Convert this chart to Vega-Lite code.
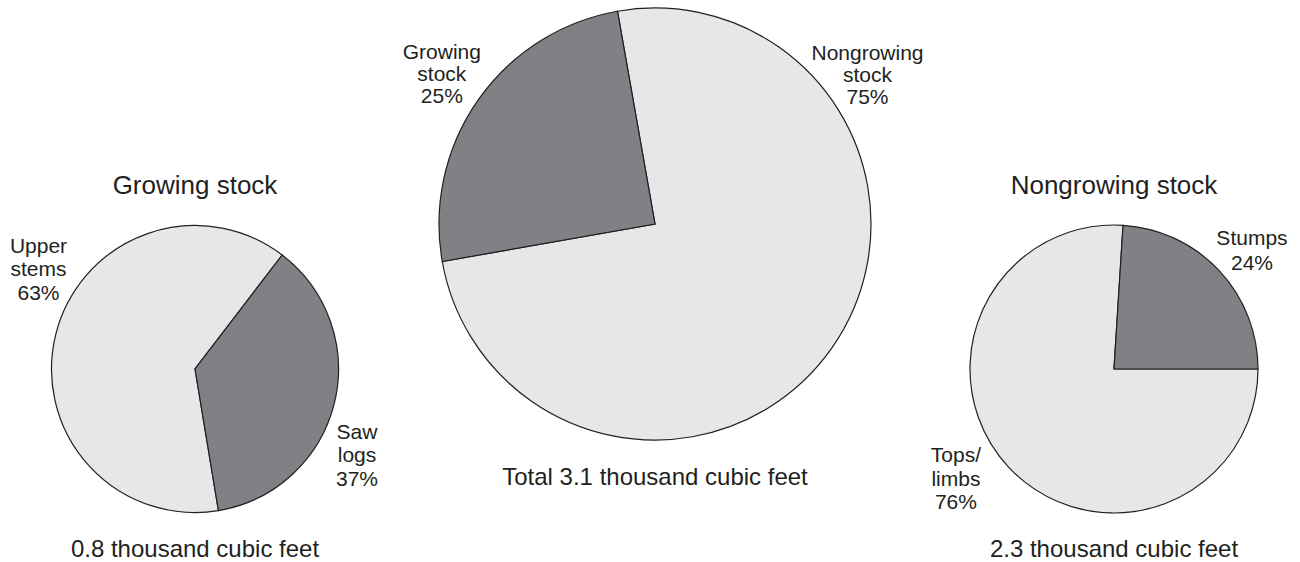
{
  "$schema": "https://vega.github.io/schema/vega-lite/v6.json",
  "padding": 0,
  "spacing": 0,
  "background": "white",
  "config": {"view": {"stroke": null}, "text": {"font": "Liberation Sans", "color": "#231f20"}},
  "resolve": {"scale": {"color": "independent", "theta": "independent"}},
  "datasets": {
    "growing": [
      {"part": "Upper stems", "k": 1, "pct": 63, "label": "Upper\nstems\n63%"},
      {"part": "Saw logs", "k": 2, "pct": 37, "label": "Saw\nlogs\n37%"}
    ],
    "total": [
      {"part": "Nongrowing stock", "k": 1, "pct": 75, "label": "Nongrowing\nstock\n75%"},
      {"part": "Growing stock", "k": 2, "pct": 25, "label": "Growing\nstock\n25%"}
    ],
    "nongrowing": [
      {"part": "Tops/limbs", "k": 1, "pct": 76, "label": "Tops/\nlimbs\n76%"},
      {"part": "Stumps", "k": 2, "pct": 24, "label": "Stumps\n24%"}
    ]
  },
  "hconcat": [
    {
      "width": 390,
      "height": 562,
      "data": {"name": "growing"},
      "layer": [
        {
          "mark": {"type": "arc", "outerRadius": 143.5, "yOffset": 88, "stroke": "#231f20", "strokeWidth": 1.2},
          "encoding": {
            "theta": {"field": "pct", "type": "quantitative", "stack": true, "scale": {"range": [2.9775, 9.2607]}},
            "order": {"field": "k", "type": "quantitative"},
            "color": {"field": "part", "type": "nominal", "scale": {"domain": ["Upper stems", "Saw logs"], "range": ["#e6e7e8", "#808184"]}, "legend": null}
          }
        },
        {
          "mark": {"type": "text", "radius": 198.6, "thetaOffset": 0.419, "yOffset": 88, "fontSize": 21, "lineBreak": "\n", "lineHeight": 23.5, "align": "center", "baseline": "middle"},
          "encoding": {
            "theta": {"field": "pct", "type": "quantitative", "stack": true, "scale": {"range": [2.9775, 9.2607]}},
            "order": {"field": "k", "type": "quantitative"},
            "text": {"condition": {"test": "datum.part === 'Upper stems'", "field": "label"}, "value": ""}
          }
        },
        {
          "mark": {"type": "text", "radius": 174.1, "thetaOffset": 0.131, "yOffset": 88, "fontSize": 21, "lineBreak": "\n", "lineHeight": 23.5, "align": "center", "baseline": "middle"},
          "encoding": {
            "theta": {"field": "pct", "type": "quantitative", "stack": true, "scale": {"range": [2.9775, 9.2607]}},
            "order": {"field": "k", "type": "quantitative"},
            "text": {"condition": {"test": "datum.part === 'Saw logs'", "field": "label"}, "value": ""}
          }
        },
        {
          "data": {"values": [{"t": "Growing stock"}]},
          "mark": {"type": "text", "yOffset": -87, "fontSize": 26, "align": "center", "baseline": "alphabetic"},
          "encoding": {"text": {"field": "t"}}
        },
        {
          "data": {"values": [{"t": "0.8 thousand cubic feet"}]},
          "mark": {"type": "text", "yOffset": 276, "fontSize": 24, "align": "center", "baseline": "alphabetic"},
          "encoding": {"text": {"field": "t"}}
        }
      ]
    },
    {
      "width": 530,
      "height": 562,
      "data": {"name": "total"},
      "layer": [
        {
          "mark": {"type": "arc", "outerRadius": 216, "yOffset": -57, "stroke": "#231f20", "strokeWidth": 1.2},
          "encoding": {
            "theta": {"field": "pct", "type": "quantitative", "stack": true, "scale": {"range": [-0.17453, 6.10865]}},
            "order": {"field": "k", "type": "quantitative"},
            "color": {"field": "part", "type": "nominal", "scale": {"domain": ["Nongrowing stock", "Growing stock"], "range": ["#e6e7e8", "#808184"]}, "legend": null}
          }
        },
        {
          "mark": {"type": "text", "radius": 273.2, "thetaOffset": 0.065, "yOffset": -57, "fontSize": 21, "lineBreak": "\n", "lineHeight": 22, "align": "center", "baseline": "middle"},
          "encoding": {
            "theta": {"field": "pct", "type": "quantitative", "stack": true, "scale": {"range": [-0.17453, 6.10865]}},
            "order": {"field": "k", "type": "quantitative"},
            "text": {"condition": {"test": "datum.part === 'Growing stock'", "field": "label"}, "value": ""}
          }
        },
        {
          "mark": {"type": "text", "radius": 272.3, "thetaOffset": -1.2863, "yOffset": -57, "fontSize": 21, "lineBreak": "\n", "lineHeight": 22, "align": "center", "baseline": "middle"},
          "encoding": {
            "theta": {"field": "pct", "type": "quantitative", "stack": true, "scale": {"range": [-0.17453, 6.10865]}},
            "order": {"field": "k", "type": "quantitative"},
            "text": {"condition": {"test": "datum.part === 'Nongrowing stock'", "field": "label"}, "value": ""}
          }
        },
        {
          "data": {"values": [{"t": "Total 3.1 thousand cubic feet"}]},
          "mark": {"type": "text", "yOffset": 204, "fontSize": 24, "align": "center", "baseline": "alphabetic"},
          "encoding": {"text": {"field": "t"}}
        }
      ]
    },
    {
      "width": 380,
      "height": 562,
      "data": {"name": "nongrowing"},
      "layer": [
        {
          "mark": {"type": "arc", "outerRadius": 144, "yOffset": 88, "stroke": "#231f20", "strokeWidth": 1.2},
          "encoding": {
            "theta": {"field": "pct", "type": "quantitative", "stack": true, "scale": {"range": [1.5708, 7.85398]}},
            "order": {"field": "k", "type": "quantitative"},
            "color": {"field": "part", "type": "nominal", "scale": {"domain": ["Tops/limbs", "Stumps"], "range": ["#e6e7e8", "#808184"]}, "legend": null}
          }
        },
        {
          "mark": {"type": "text", "radius": 189.8, "thetaOffset": -0.003, "yOffset": 88, "fontSize": 21, "lineBreak": "\n", "lineHeight": 25, "align": "center", "baseline": "middle"},
          "encoding": {
            "theta": {"field": "pct", "type": "quantitative", "stack": true, "scale": {"range": [1.5708, 7.85398]}},
            "order": {"field": "k", "type": "quantitative"},
            "text": {"condition": {"test": "datum.part === 'Stumps'", "field": "label"}, "value": ""}
          }
        },
        {
          "mark": {"type": "text", "radius": 180.6, "thetaOffset": 0.249, "yOffset": 88, "fontSize": 21, "lineBreak": "\n", "lineHeight": 23.5, "align": "center", "baseline": "middle"},
          "encoding": {
            "theta": {"field": "pct", "type": "quantitative", "stack": true, "scale": {"range": [1.5708, 7.85398]}},
            "order": {"field": "k", "type": "quantitative"},
            "text": {"condition": {"test": "datum.part === 'Tops/limbs'", "field": "label"}, "value": ""}
          }
        },
        {
          "data": {"values": [{"t": "Nongrowing stock"}]},
          "mark": {"type": "text", "yOffset": -87, "fontSize": 26, "align": "center", "baseline": "alphabetic"},
          "encoding": {"text": {"field": "t"}}
        },
        {
          "data": {"values": [{"t": "2.3 thousand cubic feet"}]},
          "mark": {"type": "text", "yOffset": 276, "fontSize": 24, "align": "center", "baseline": "alphabetic"},
          "encoding": {"text": {"field": "t"}}
        }
      ]
    }
  ]
}
